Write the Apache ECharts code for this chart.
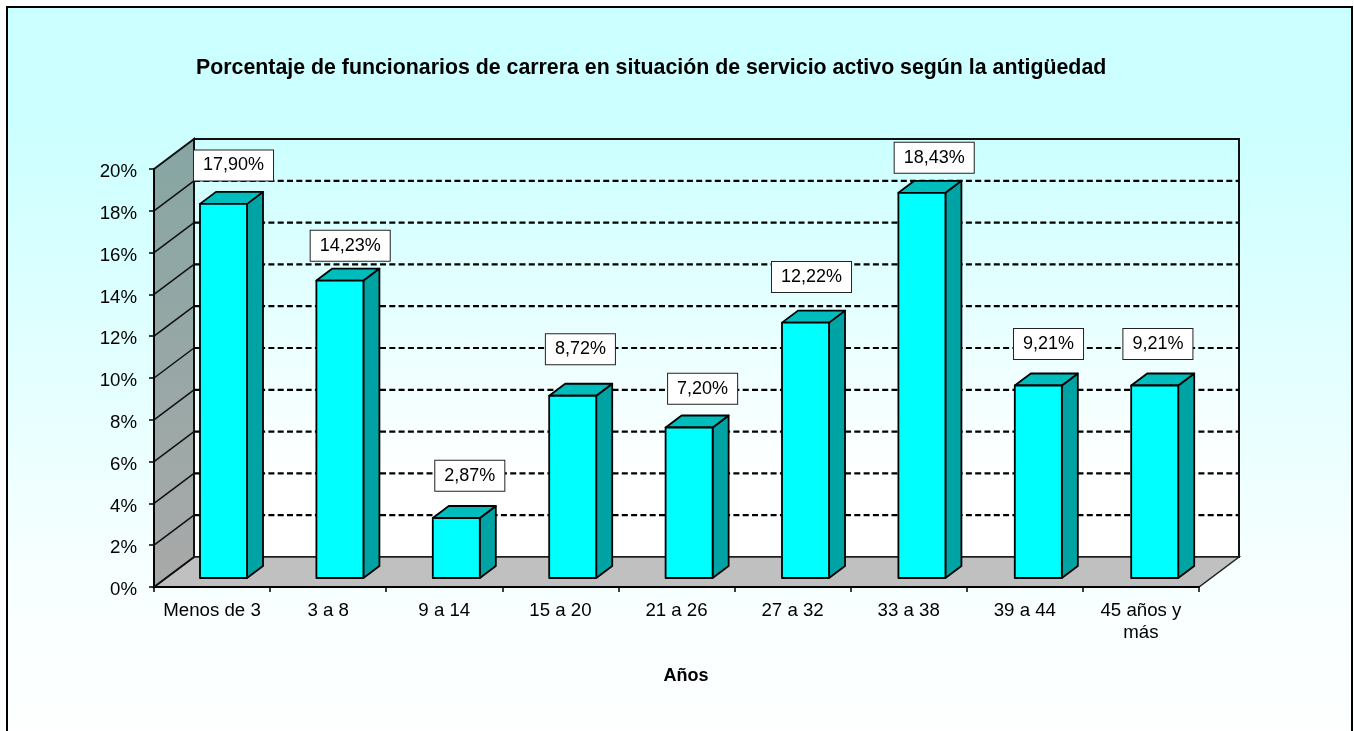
<!DOCTYPE html>
<html><head><meta charset="utf-8">
<style>html,body{margin:0;padding:0;background:#fff}#c{width:1354px;height:731px}</style>
<script src="https://cdn.jsdelivr.net/npm/echarts@6/dist/echarts.min.js"></script>
</head><body><div id="c"></div>
<script>
const titleText = 'Porcentaje de funcionarios de carrera en situación de servicio activo según la antigüedad';
const xTitle = 'Años';
const categories = ['Menos de 3','3 a 8','9 a 14','15 a 20','21 a 26','27 a 32','33 a 38','39 a 44','45 años y\nmás'];
const values = [17.90,14.23,2.87,8.72,7.20,12.22,18.43,9.21,9.21];
const yTicks = [0,2,4,6,8,10,12,14,16,18,20];
// hand-placed label nudges of the original, relative to the top of each bar (px)
const labelDx = [10,10.3,13.5,7.7,13.5,6,12.3,10.2,3.2];
const labelDy = [-40.4,-36.9,-44.2,-48.5,-40.7,-47.6,-37.1,-43.5,-43.5];

const FONT = '"Liberation Sans", Arial, sans-serif';
const DX = 40, DY = 30;           // depth of the 3D box
const BAR_NX = 11.3, BAR_NY = 9, BAR_FX = 16, BAR_FY = 12, BAR_W = 0.405, BAR_SPREAD = 1.0025;
const fmt = v => v.toFixed(2).replace('.', ',') + '%';
const poly = (pts, style) => ({type:'polygon', shape:{points:pts}, style});
const seg = (x1,y1,x2,y2,style) => ({type:'line', shape:{x1,y1,x2,y2}, style});
const barCenter = (px, c) => c.x + (px - c.x) * BAR_SPREAD + BAR_NX;

const chart = echarts.init(document.getElementById('c'), null, {renderer:'canvas'});
chart.setOption({
  animation:false,
  backgroundColor:'#ffffff',
  graphic:[{type:'rect', z:-10, silent:true,
    shape:{x:7,y:7,width:1345,height:760},
    style:{stroke:'#000',lineWidth:2,
      fill:new echarts.graphic.LinearGradient(0,0,0,1,[{offset:0,color:'#CCFFFF'},{offset:0.15,color:'#CCFFFF'},{offset:0.75,color:'#F8FFFF'},{offset:1,color:'#FFFFFF'}])}}],
  title:[
    {text:titleText,left:196,top:58,textStyle:{fontFamily:FONT,fontWeight:'bold',fontSize:21.33,color:'#000'},padding:0},
    {text:xTitle,left:663.5,top:667,textStyle:{fontFamily:FONT,fontWeight:'bold',fontSize:18,color:'#000'},padding:0}
  ],
  grid:{left:154,right:155,top:169,bottom:144,containLabel:false},
  xAxis:{type:'category',data:categories,boundaryGap:true,z:20,
    axisLine:{show:true,lineStyle:{color:'#000',width:2}},
    axisTick:{show:true,length:5,alignWithLabel:false,lineStyle:{color:'#000',width:1.5}},
    axisLabel:{interval:0,margin:13,color:'#000',fontFamily:FONT,fontSize:18.67,lineHeight:22},
    splitLine:{show:false}},
  yAxis:{type:'value',min:0,max:20,interval:2,z:20,
    axisLine:{show:true,lineStyle:{color:'#000',width:2}},
    axisTick:{show:true,length:5,lineStyle:{color:'#000',width:1.5}},
    axisLabel:{margin:17,color:'#000',fontFamily:FONT,fontSize:18.67,verticalAlign:'top',lineHeight:6,formatter:v=>v+'%'},
    splitLine:{show:false}},
  series:[
    {type:'custom',coordinateSystem:'cartesian2d',z:2,clip:false,silent:true,
      data:[[0,0]],encode:{x:0,y:1},
      renderItem(params,api){
        const c=params.coordSys, L=c.x,R=c.x+c.width,T=c.y,B=c.y+c.height;
        const wallFill=new echarts.graphic.LinearGradient(0,0,0,1,[{offset:0,color:'#CCFFFF'},{offset:0.8,color:'#FFFFFF'},{offset:1,color:'#FFFFFF'}]);
        const leftFill=new echarts.graphic.LinearGradient(0,0,0,1,[{offset:0,color:'#86A6A3'},{offset:1,color:'#A9A9A9'}]);
        return {type:'group',children:[
          {type:'rect',shape:{x:L+DX,y:T-DY,width:c.width,height:c.height},style:{fill:wallFill,stroke:'#111',lineWidth:2}},
          poly([[L,B],[L+DX,B-DY],[R+DX,B-DY],[R,B]],{fill:'#C0C0C0',stroke:'#222',lineWidth:1.5}),
          poly([[L,T],[L+DX,T-DY],[L+DX,B-DY],[L,B]],{fill:leftFill,stroke:'#111',lineWidth:2})
        ]};
      }},
    {type:'custom',coordinateSystem:'cartesian2d',z:3,clip:false,silent:true,
      data:yTicks.filter(t=>t>0&&t<20).map(t=>[0,t]),encode:{x:0,y:1},
      renderItem(params,api){
        const c=params.coordSys, y=api.coord([0,api.value(1)])[1];
        return {type:'group',children:[
          seg(c.x,y,c.x+DX,y-DY,{stroke:'#111',lineWidth:1.5}),
          seg(c.x+DX,y-DY,c.x+c.width+DX,y-DY,{stroke:'#000',lineWidth:2.2,lineDash:[6,3.3]})
        ]};
      }},
    {type:'custom',coordinateSystem:'cartesian2d',z:5,clip:false,silent:true,
      data:values.map((v,i)=>[i,v]),encode:{x:0,y:1},
      renderItem(params,api){
        const i=api.value(0),v=api.value(1);
        const pt=api.coord([i,v]),base=api.coord([i,0]),band=api.size([1,0])[0];
        const w=band*BAR_W, cx=barCenter(pt[0],params.coordSys);
        const x0=cx-w/2, x1=x0+w, yt=pt[1]-BAR_NY, yb=base[1]-BAR_NY, fx=BAR_FX, fy=BAR_FY;
        const s={stroke:'#000',lineWidth:1.8,lineJoin:'round'};
        return {type:'group',children:[
          poly([[x1,yt],[x1+fx,yt-fy],[x1+fx,yb-fy],[x1,yb]],{...s,fill:'#00A3A3'}),
          poly([[x0,yt],[x0+fx,yt-fy],[x1+fx,yt-fy],[x1,yt]],{...s,fill:'#00BDBD'}),
          {type:'rect',shape:{x:x0,y:yt,width:w,height:yb-yt},style:{...s,fill:'#00FFFF'}}
        ]};
      }},
    {type:'custom',coordinateSystem:'cartesian2d',z:6,clip:false,silent:true,
      data:values.map((v,i)=>[i,v]),encode:{x:0,y:1},
      renderItem(params,api){
        const i=api.value(0),v=api.value(1),pt=api.coord([i,v]);
        return {type:'text',x:barCenter(pt[0],params.coordSys)+labelDx[i],y:pt[1]-BAR_NY+labelDy[i]+2,
          style:{text:fmt(v),align:'center',verticalAlign:'middle',fontFamily:FONT,fontSize:18,lineHeight:18,fill:'#000',
            backgroundColor:'#fff',borderColor:'#222',borderWidth:1,padding:[8,9,4,9]}};
      }}
  ]
});
</script></body></html>
